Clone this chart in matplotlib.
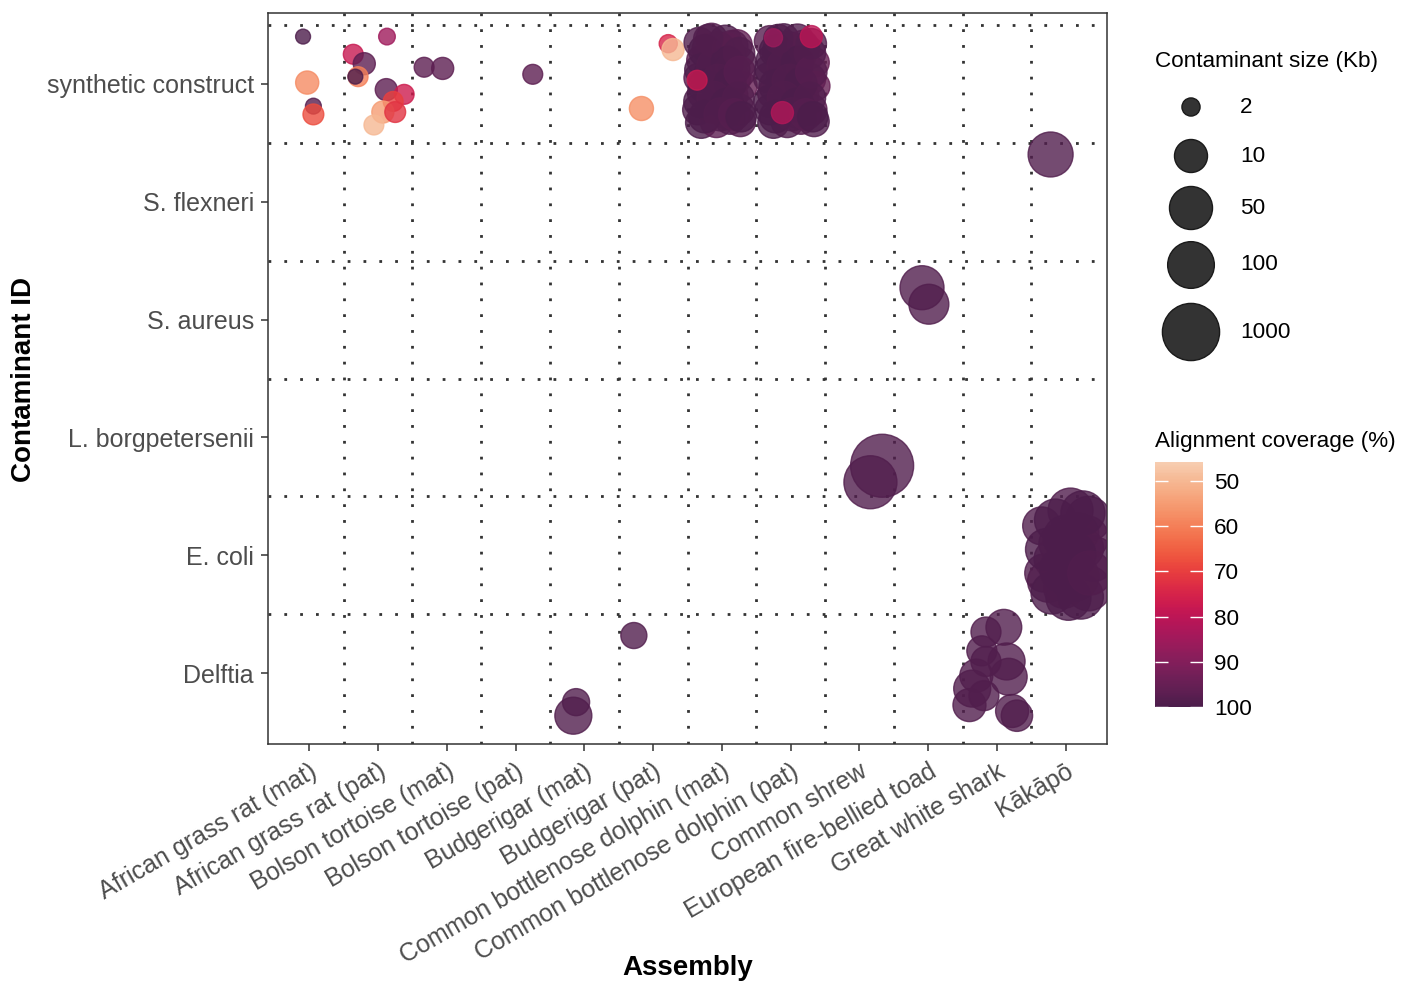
import numpy as np
import matplotlib
matplotlib.use("Agg")
import matplotlib.pyplot as plt
from matplotlib.colors import ListedColormap, Normalize
from matplotlib.colorbar import ColorbarBase
import seaborn as sns

plt.rcParams['font.family'] = ['Liberation Sans', 'DejaVu Sans']

assemblies = ["African grass rat (mat)", "African grass rat (pat)", "Bolson tortoise (mat)",
              "Bolson tortoise (pat)", "Budgerigar (mat)", "Budgerigar (pat)",
              "Common bottlenose dolphin (mat)", "Common bottlenose dolphin (pat)",
              "Common shrew", "European fire-bellied toad", "Great white shark", "Kākāpō"]
contaminants = ["Delftia", "E. coli", "L. borgpetersenii", "S. aureus", "S. flexneri",
                "synthetic construct"]

# point groups: assembly index, contaminant index, count
pt_asm = ([0] * 4 + [1] * 11 + [2] * 2 + [3] * 1 + [5] * 3 + [6] * 49 + [7] * 50
          + [11] * 1 + [9] * 2 + [8] * 2 + [11] * 24 + [4] * 2 + [5] * 1 + [10] * 12)
pt_cont = ([5] * 4 + [5] * 11 + [5] * 2 + [5] * 1 + [5] * 3 + [5] * 49 + [5] * 50
           + [4] * 1 + [3] * 2 + [2] * 2 + [1] * 24 + [0] * 2 + [0] * 1 + [0] * 12)

# jitter offsets
pt_jx = [-0.09, -0.03, 0.06, 0.06,
         -0.36, -0.20, -0.29, -0.33, 0.13, 0.12, 0.38, 0.22, 0.07, 0.25, -0.06,
         -0.33, -0.06,
         0.25,
         -0.17, 0.22, 0.29,
         # dolphin (mat)
         -0.33, -0.15, 0.05, 0.22, -0.30, -0.10, 0.12, 0.28, -0.34, -0.18, 0.02, 0.20,
         -0.28, -0.05, 0.15, 0.30, -0.35, -0.15, 0.05, 0.25, -0.30, -0.08, 0.12, 0.27,
         -0.22, 0.18, -0.02, 0.08,
         -0.25, -0.05, 0.15, -0.32, -0.12, 0.08, 0.25, -0.25, -0.05, 0.12, 0.26,
         -0.32, -0.12, 0.08, 0.24, -0.25, -0.02, 0.18, 0.28, -0.20,
         -0.36,
         # dolphin (pat)
         -0.30, -0.10, 0.10, -0.28, -0.05, 0.15, 0.35, -0.32, -0.12, 0.08, 0.28,
         -0.26, -0.02, 0.18, 0.36, -0.30, -0.10, 0.10, 0.30, -0.25, -0.05, 0.15, 0.34,
         0.20, -0.18, 0.05,
         -0.22, -0.02, 0.18, -0.30, -0.10, 0.10, 0.28, -0.22, -0.02, 0.15, 0.30,
         -0.30, -0.10, 0.10, 0.28, -0.22, 0.02, 0.22, 0.32, -0.18, 0.30,
         0.30, -0.25, -0.12,
         # S. flexneri, S. aureus, L. borgpetersenii
         -0.22,
         -0.09, 0.01,
         0.33, 0.16,
         # E. coli
         -0.35, 0.07, 0.33, -0.10, 0.26, -0.25, 0.12, 0.33, 0.04, -0.17, 0.19, -0.03,
         -0.32, 0.40, -0.28, 0.00, 0.30, -0.20, 0.22, 0.10, -0.05, 0.35, -0.15, 0.25,
         # Delftia
         -0.12, -0.16,
         -0.28,
         -0.16, 0.10, -0.22, 0.14, 0.17, -0.30, -0.36, -0.40, -0.19, 0.22, 0.29, -0.16]
pt_jy = [0.40, 0.01, -0.19, -0.26,
         0.25, 0.17, 0.06, 0.06, 0.40, -0.05, -0.09, -0.15, -0.24, -0.24, -0.35,
         0.14, 0.13,
         0.08,
         -0.21, 0.34, 0.29,
         # dolphin (mat)
         0.35, 0.38, 0.36, 0.33, 0.20, 0.22, 0.25, 0.18, 0.05, 0.08, 0.10, 0.04,
         -0.08, -0.05, -0.10, -0.02, -0.22, -0.20, -0.25, -0.22, -0.33, -0.32, -0.30, -0.32,
         0.30, 0.12, -0.15, 0.30,
         0.28, 0.30, 0.32, 0.12, 0.15, 0.18, 0.26, -0.02, 0.02, 0.00, 0.10,
         -0.15, -0.12, -0.18, -0.12, -0.28, -0.26, -0.26, -0.28, 0.38,
         0.03,
         # dolphin (pat)
         0.36, 0.38, 0.37, 0.20, 0.22, 0.25, 0.18, 0.05, 0.08, 0.10, 0.04,
         -0.08, -0.05, -0.10, -0.02, -0.22, -0.20, -0.25, -0.22, -0.33, -0.32, -0.30, -0.32,
         0.30, 0.28, -0.15,
         0.28, 0.30, 0.32, 0.12, 0.15, 0.18, 0.26, -0.02, 0.02, 0.00, 0.10,
         -0.15, -0.12, -0.18, -0.12, -0.28, -0.26, -0.26, -0.28, 0.38, 0.34,
         0.40, 0.39, -0.245,
         # S. flexneri, S. aureus, L. borgpetersenii
         0.40,
         0.27, 0.13,
         -0.24, -0.38,
         # E. coli
         0.25, 0.38, 0.31, 0.10, 0.06, -0.22, -0.18, -0.28, -0.36, -0.03, 0.19, -0.28,
         -0.15, -0.03, 0.05, 0.15, 0.15, -0.32, -0.35, 0.00, -0.12, -0.15, 0.30, 0.36,
         # Delftia
         -0.245, -0.36,
         0.32,
         0.35, 0.39, 0.19, 0.10, -0.03, -0.02, -0.13, -0.27, -0.19, -0.32, -0.36, 0.10]
pt_kb = [1.6, 3.1, 1.7, 2.5,
         2.3, 2.8, 2.3, 1.6, 1.8, 2.8, 2.3, 2.3, 2.8, 2.5, 2.3,
         2.3, 2.8,
         2.3,
         3.4, 2.0, 2.8,
         # dolphin (mat)
         7, 8, 9, 7, 6, 10, 8, 7, 6, 8, 11, 7, 7, 9, 8, 6, 7, 8, 7, 8, 8, 9, 7, 7,
         6, 8, 10, 7,
         9, 10, 8, 7, 11, 9, 8, 10, 12, 9, 8, 9, 10, 11, 8, 9, 10, 8, 7, 6,
         2.3,
         # dolphin (pat)
         8, 7, 9, 7, 10, 8, 6, 7, 8, 11, 8, 7, 9, 8, 6, 7, 8, 7, 8, 8, 9, 7, 7,
         7, 8, 10,
         9, 10, 8, 7, 11, 9, 8, 10, 12, 9, 8, 9, 10, 11, 8, 9, 10, 8, 7, 6, 7,
         2.8, 2.0, 2.8,
         # S. flexneri, S. aureus, L. borgpetersenii
         72,
         60, 29,
         4400, 380,
         # E. coli
         21, 72, 72, 29, 29, 41, 196, 72, 72, 29, 29, 29, 21, 72,
         41, 72, 60, 41, 72, 100, 72, 60, 41, 60,
         # Delftia
         4.7, 18,
         4.2,
         6.7, 15, 6.7, 18, 18, 10, 18, 10, 6.7, 10, 8, 6.7]
pt_cov = [100, 58, 98, 68,
          78, 97, 60, 100, 85, 97, 77, 70, 55, 72, 50,
          97, 97,
          97,
          57, 75, 50,
          # dolphin (mat)
          99, 98, 100, 96, 97, 100, 95, 99, 98, 100, 97, 99, 100, 96, 100, 95, 99, 100,
          98, 99, 100, 97, 99, 98, 97, 100, 99, 94,
          100, 99, 98, 100, 99, 100, 99, 100, 99, 100, 98, 100, 99, 100, 99, 100, 99, 98,
          100, 99,
          78,
          # dolphin (pat)
          98, 100, 99, 100, 97, 99, 95, 99, 100, 98, 100, 97, 100, 99, 95, 100, 98, 99,
          97, 100, 99, 98, 99, 96, 100, 100,
          100, 99, 98, 100, 99, 100, 99, 100, 99, 100, 98, 100, 99, 100, 99, 100, 99, 98,
          100, 99, 99,
          80, 86, 82,
          # S. flexneri, S. aureus, L. borgpetersenii
          99,
          99, 99,
          99, 99,
          # E. coli
          99, 99, 100, 99, 100, 99, 100, 99, 100, 99, 100, 99, 99, 100,
          100, 100, 99, 100, 100, 100, 100, 99, 100, 100,
          # Delftia
          99, 99,
          99,
          99, 99, 99, 99, 99, 99, 99, 99, 99, 99, 99, 99]

legend_kb = [2, 10, 50, 100, 1000]
cov_ticks = [50, 60, 70, 80, 90, 100]
cov_min, cov_max = 45.8, 100


def kb_to_s(kb):
    return 565 * np.log10(np.asarray(kb, dtype=float))


rocket = sns.color_palette("rocket", as_cmap=True)
cmap = ListedColormap(rocket(np.linspace(0.92, 0.2, 256)))
norm = Normalize(cov_min, cov_max)

fig = plt.figure(figsize=(14.12, 9.82), dpi=100)
W, H = 1412, 982
ax = fig.add_axes([268 / W, 1 - 744 / H, (1107 - 268) / W, (744 - 13) / H])

x = np.array(pt_asm) + 1 + np.array(pt_jx)
y = np.array(pt_cont) + 1 + np.array(pt_jy)
cols = cmap(norm(np.array(pt_cov)))
face = cols.copy()
face[:, 3] = 0.8
ax.scatter(x, y, s=kb_to_s(pt_kb), c=face, edgecolors=face, linewidths=1.0, zorder=3)

grid_kw = dict(color="#333333", linestyle=(0, (1, 4.7)), linewidth=2.0,
               dash_capstyle="butt", zorder=1)
for gx in np.arange(1.5, len(assemblies), 1):
    ax.axvline(gx, **grid_kw)
for gy in np.arange(1.5, len(contaminants) + 1, 1):
    ax.axhline(gy, **grid_kw)

ax.set_xlim(0.4, len(assemblies) + 0.6)
ax.set_ylim(0.4, len(contaminants) + 0.6)
ax.set_xticks(np.arange(1, len(assemblies) + 1))
ax.set_xticklabels(assemblies, rotation=30, ha="right", va="top", rotation_mode="anchor")
ax.set_yticks(np.arange(1, len(contaminants) + 1))
ax.set_yticklabels(contaminants)
ax.tick_params(length=5, width=1.1, color="#333333", labelsize=18, labelcolor="#4D4D4D")
ax.tick_params(axis="x", pad=6)
ax.tick_params(axis="y", pad=5)
for sp in ax.spines.values():
    sp.set_color("#333333")
    sp.set_linewidth(1.1)
fig.text(688 / W, 1 - 968 / H, "Assembly", fontsize=20, fontweight="bold",
         ha="center", va="center")
fig.text(24 / W, 1 - 379 / H, "Contaminant ID", fontsize=20, fontweight="bold",
         rotation=90, ha="center", va="center")

# size legend
lax = fig.add_axes([0, 0, 1, 1], facecolor="none")
lax.set_xlim(0, W)
lax.set_ylim(H, 0)
lax.axis("off")
fig.text(1155 / W, 1 - 62 / H, "Contaminant size (Kb)", fontsize=16.2, va="center")
leg_y = [107, 156, 208, 265, 332]
lax.scatter([1191] * len(legend_kb), leg_y, s=kb_to_s(legend_kb), c="#333333",
            edgecolors="#1a1a1a", linewidths=1.0)
for ly, kb in zip(leg_y, legend_kb):
    lax.text(1240, ly, str(kb), fontsize=16.2, va="center")

# colour legend
fig.text(1155 / W, 1 - 442 / H, "Alignment coverage (%)", fontsize=16.2, va="center")
cax = fig.add_axes([1155 / W, 1 - 707 / H, 48 / W, 245 / H])
cb = ColorbarBase(cax, cmap=cmap, norm=norm, orientation="vertical")
cb.outline.set_visible(False)
cax.invert_yaxis()
cb.set_ticks(cov_ticks)
cax.tick_params(direction="in", color="white", length=9.5, width=1, left=True, right=True,
                labelleft=False, labelright=True, labelsize=16.2, pad=8)

fig.savefig("out.png", dpi=100)
